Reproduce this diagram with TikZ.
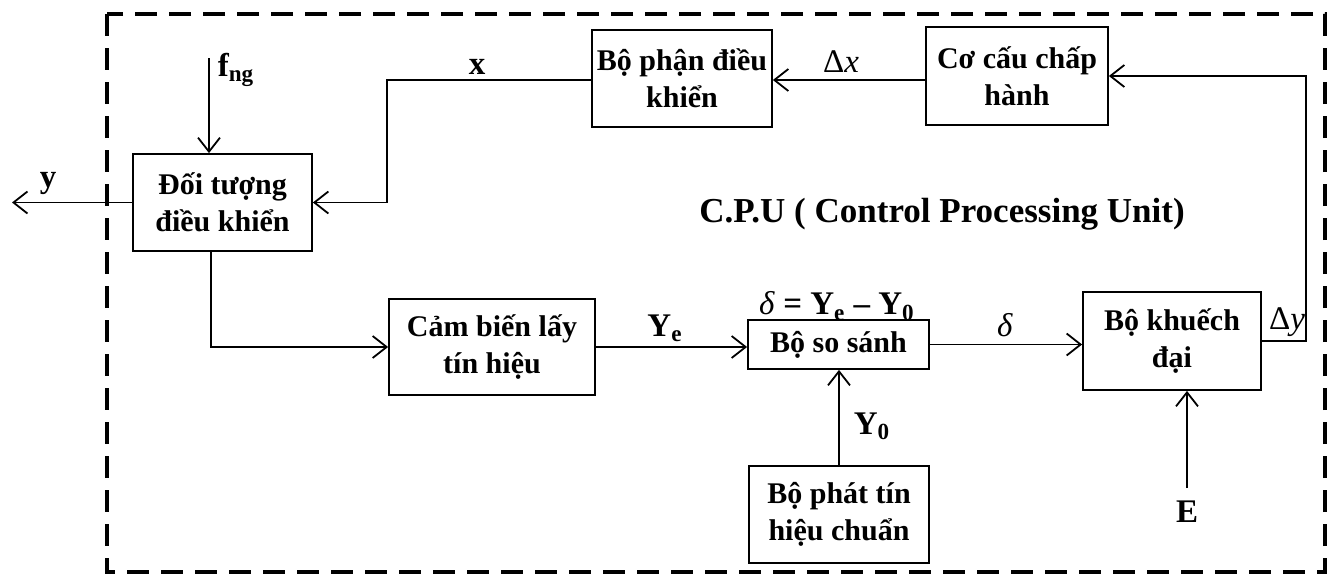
\documentclass[tikz,border=0pt]{standalone}
\usepackage{fontspec}
\setmainfont{Liberation Serif}
\usetikzlibrary{arrows.meta}
\begin{document}
\begin{tikzpicture}[x=0.5pt,y=-0.5pt,
  blk/.style={draw,line width=0.9pt,inner sep=0pt,align=center,
    font=\bfseries\fontsize{15}{18.5}\selectfont},
  arr/.style={line width=0.9pt,-{Straight Barb[length=7pt,width=11pt]}},
  lbl/.style={inner sep=0pt,font=\bfseries\fontsize{16.5}{18}\selectfont},
  lbln/.style={inner sep=0pt,font=\fontsize{16.5}{18}\selectfont}]
\useasboundingbox (0,0) rectangle (1330,578);
% dashed frame
\draw[line width=2pt,dash pattern=on 11pt off 6pt] (107,14) rectangle (1325,572);
% blocks
\node[blk,minimum width=89.5pt,minimum height=48.5pt] (obj) at (222.5,202.5) {Đối tượng\\điều khiển};
\node[blk,minimum width=90pt,minimum height=48.5pt] (ctrl) at (682,78.5) {Bộ phận điều\\khiển};
\node[blk,minimum width=91pt,minimum height=49pt] (act) at (1017,76) {Cơ cấu chấp\\hành};
\node[blk,minimum width=103pt,minimum height=48pt] (sens) at (492,347) {Cảm biến lấy\\tín hiệu};
\node[blk,minimum width=90.5pt,minimum height=24.5pt] (cmp) at (838.5,344.5) {Bộ so sánh};
\node[blk,minimum width=90pt,minimum height=48.5pt] (gen) at (839,514.5) {Bộ phát tín\\hiệu chuẩn};
\node[blk,minimum width=89pt,minimum height=49pt] (amp) at (1172,341) {Bộ khuếch\\đại};
% title
\node[inner sep=0pt,font=\bfseries\fontsize{17.5}{20}\selectfont] (cpu) at (942,214) {C.P.U ( Control Processing Unit)};
% helper coordinates
\coordinate (fin) at (209,58);
\coordinate (yout) at (12,202.5);
\coordinate (xc) at (387,80);
\coordinate (dyc) at (1306,341);
\coordinate (ein) at (1187,488);
% connectors
\draw[arr] (fin) -- (fin |- obj.north);
\draw[arr] (obj.west) -- (yout);
\draw[arr] (ctrl.west |- xc) -- (xc) |- (obj.east);
\draw[arr] (act.west |- xc) -- (ctrl.east |- xc);
\draw[arr] (amp.east) -- (dyc) |- (act.east);
\draw[arr] ([xshift=-5.75pt]obj.south) |- (sens.west);
\draw[arr] (sens.east) -- (sens.east -| cmp.west);
\draw[arr] (cmp.east) -- (cmp.east -| amp.west);
\draw[arr] (gen.north) -- (gen.north |- cmp.south);
\draw[arr] (ein) -- (ein |- amp.south);
% labels
\node[lbl] (lfng) at (236,70) {f\textsubscript{ng}};
\node[lbl] (ly) at (48,183) {y};
\node[lbl] (lx) at (477,67) {x};
\node[lbln] (ldx) at (841,62) {Δ\textit{x}};
\node[lbl] (lye) at (665,328) {Y\textsubscript{e}};
\node[lbl] (leq) at (837,306) {\textit{\mdseries δ} = Y\textsubscript{e} – Y\textsubscript{0}};
\node[lbln] (ld) at (1005,325) {\textit{δ}};
\node[lbl] (ly0) at (872,426) {Y\textsubscript{0}};
\node[lbl] (le) at (1187,512) {E};
\node[lbln] (ldy) at (1287,322) {Δ\textit{y}};
\end{tikzpicture}
\end{document}
